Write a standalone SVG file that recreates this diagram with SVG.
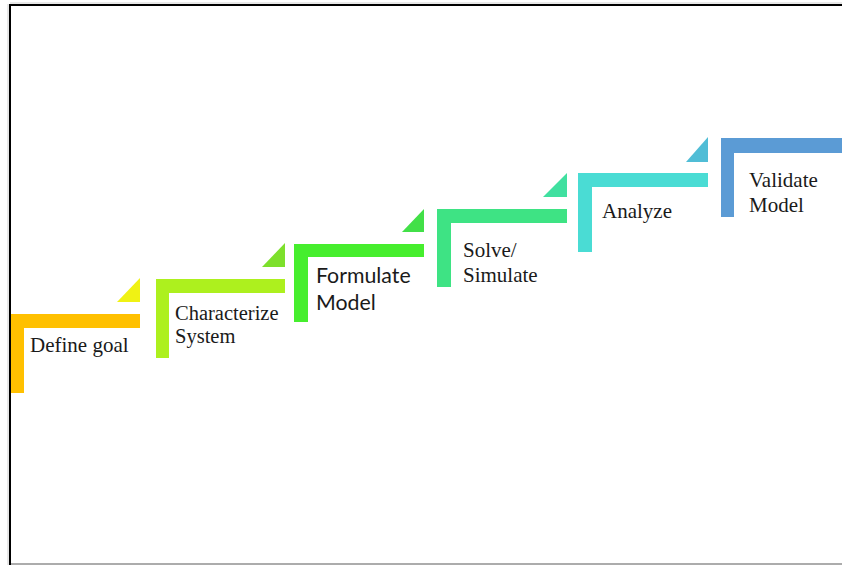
<svg xmlns="http://www.w3.org/2000/svg" width="842" height="565" viewBox="0 0 842 565">
<style>
.t{font-family:"Liberation Serif","Times New Roman",serif;font-size:21px;fill:#1a1a1a}
.c{font-size:20.5px}
.s{font-family:Lato,"Liberation Sans",sans-serif;font-size:21.3px;fill:#1a1a1a}
</style>
<rect width="842" height="565" fill="#ffffff"/>
<g id="frame">
<line x1="10" y1="3" x2="842" y2="3" stroke="#d0d0d0" stroke-width="1"/>
<line x1="8" y1="4" x2="8" y2="565" stroke="#d0d0d0" stroke-width="1"/>
<line x1="9" y1="5" x2="842" y2="5" stroke="#000" stroke-width="2"/>
<line x1="10" y1="4" x2="10" y2="565" stroke="#000" stroke-width="2"/>
<line x1="11" y1="564" x2="842" y2="564" stroke="#909090" stroke-width="1.5"/>
</g>
<g id="connectors">
<polygon points="117,302 140,302 140,278" fill="#F0F214"/>
<polygon points="262,267 285,267 285,243" fill="#7DE02C"/>
<polygon points="402,232 424,232 424,209" fill="#42E048"/>
<polygon points="543,197 567,197 567,173" fill="#40E0A0"/>
<polygon points="686,162 708,162 708,137" fill="#50BDD6"/>
</g>
<g id="step1">
<path d="M11,314 H140 V328 H24 V393 H11 Z" fill="#FFC000"/>
<text class="t" x="30" y="352">Define goal</text>
</g>
<g id="step2">
<path d="M156,279 H285 V293 H169 V358 H156 Z" fill="#ADF01E"/>
<text class="t c" x="175" y="320">Characterize</text>
<text class="t c" x="175" y="343">System</text>
</g>
<g id="step3">
<path d="M294,244 H424 V257 H308 V322 H294 Z" fill="#46EE2E"/>
<text class="s" x="316" y="283">Formulate</text>
<text class="s" x="316" y="310">Model</text>
</g>
<g id="step4">
<path d="M437,209 H567 V223 H451 V287 H437 Z" fill="#3EE384"/>
<text class="t" x="463" y="257">Solve/</text>
<text class="t" x="463" y="282">Simulate</text>
</g>
<g id="step5">
<path d="M578,173 H708 V187 H592 V252 H578 Z" fill="#4ADCD4"/>
<text class="t" x="602" y="218">Analyze</text>
</g>
<g id="step6">
<path d="M721,138 H842 V153 H734 V217 H721 Z" fill="#5B9BD5"/>
<text class="t" x="749" y="187">Validate</text>
<text class="t" x="749" y="212">Model</text>
</g>
</svg>
